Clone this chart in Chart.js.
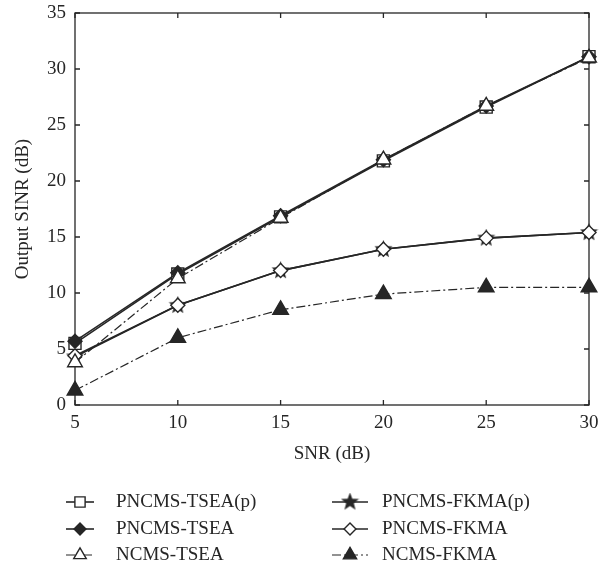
<!DOCTYPE html>
<html>
<head>
<meta charset="utf-8">
<script src="https://cdn.jsdelivr.net/npm/chart.js@4.4.1/dist/chart.umd.min.js"></script>
<style>
  html, body { margin: 0; padding: 0; background: #fff; }
  #wrap { width: 612px; height: 566px; position: relative; }
</style>
</head>
<body>
<div id="wrap"><canvas id="chart" width="612" height="566"></canvas></div>
<script>
// Data
const snr = [5, 10, 15, 20, 25, 30];
const tseaP = [5.5, 11.7, 16.8, 21.8, 26.6, 31.1];
const tsea = [5.7, 11.8, 16.9, 21.9, 26.7, 31.1];
const ncmsTsea = [3.8, 11.3, 16.7, 21.9, 26.7, 31.0];
const fkmaP = [4.3, 8.9, 12.0, 13.9, 14.9, 15.4];
const fkma = [4.4, 8.9, 12.0, 13.9, 14.9, 15.4];
const ncmsFkma = [1.3, 6.0, 8.5, 9.9, 10.5, 10.5];
const yTicks = [0, 5, 10, 15, 20, 25, 30, 35];

const INK = '#262626';
const FONT = 'Liberation Serif';
const DASHDOT = [9, 3, 2, 3];

// filled five-point star marker
function makeStar(size) {
    const c = document.createElement('canvas');
    c.width = size; c.height = size;
    const g = c.getContext('2d');
    const R = size / 2, r = R * 0.42;
    g.beginPath();
    for (let i = 0; i < 10; i++) {
        const a = -Math.PI / 2 + i * Math.PI / 5;
        const rad = i % 2 === 0 ? R : r;
        g.lineTo(R + rad * Math.cos(a), R + rad * Math.sin(a));
    }
    g.closePath();
    g.fillStyle = INK;
    g.fill();
    return c;
}
const starImg = makeStar(19);

function pts(arr) {
    return snr.map((x, i) => ({ x: x, y: arr[i] }));
}

function series(label, arr, style, fill, radius, dash, order) {
    return {
        label: label,
        data: pts(arr),
        borderColor: INK,
        borderWidth: dash ? 1.2 : 1.6,
        borderDash: dash || [],
        pointStyle: style,
        pointRadius: radius,
        pointHoverRadius: radius,
        pointBorderWidth: 1.4,
        pointBorderColor: INK,
        pointBackgroundColor: fill,
        fill: false,
        tension: 0,
        clip: false,
        order: order
    };
}

const datasets = [
    series('PNCMS-TSEA(p)', tseaP, 'rect', '#fff', 8.5, null, 3),
    series('PNCMS-TSEA', tsea, 'rectRot', INK, 7, null, 2),
    series('NCMS-TSEA', ncmsTsea, 'triangle', '#fff', 8.5, DASHDOT, 1),
    series('PNCMS-FKMA(p)', fkmaP, starImg, INK, 9, null, 5),
    series('PNCMS-FKMA', fkma, 'rectRot', '#fff', 7, null, 4),
    series('NCMS-FKMA', ncmsFkma, 'triangle', INK, 9, DASHDOT, 0)
];

// frame with inward ticks on all four sides
const framePlugin = {
    id: 'frame',
    beforeDatasetsDraw(chart) {
        const { ctx, chartArea: a, scales: { x, y } } = chart;
        ctx.save();
        ctx.strokeStyle = INK;
        ctx.lineWidth = 1.3;
        ctx.strokeRect(a.left, a.top, a.right - a.left, a.bottom - a.top);
        const t = 5;
        ctx.beginPath();
        snr.forEach(v => {
            const px = x.getPixelForValue(v);
            ctx.moveTo(px, a.bottom); ctx.lineTo(px, a.bottom - t);
            ctx.moveTo(px, a.top); ctx.lineTo(px, a.top + t);
        });
        yTicks.forEach(v => {
            const py = y.getPixelForValue(v);
            ctx.moveTo(a.left, py); ctx.lineTo(a.left + t, py);
            ctx.moveTo(a.right, py); ctx.lineTo(a.right - t, py);
        });
        ctx.stroke();
        ctx.restore();
    }
};

// two-column legend under the axis title
const legendPlugin = {
    id: 'twoColLegend',
    afterDraw(chart) {
        const ctx = chart.ctx;
        const cols = [{ x0: 66, x1: 94, tx: 116 }, { x0: 332, x1: 368, tx: 382 }];
        const rows = [502, 529, 555];
        const layout = [[0, 3], [1, 4], [2, 5]];
        ctx.save();
        ctx.font = '19px "' + FONT + '"';
        ctx.textBaseline = 'middle';
        ctx.textAlign = 'left';
        layout.forEach((pair, r) => {
            pair.forEach((di, c) => {
                const ds = chart.data.datasets[di];
                const col = cols[c];
                const yy = rows[r];
                ctx.strokeStyle = INK;
                ctx.lineWidth = ds.borderWidth;
                ctx.setLineDash(ds.borderDash);
                ctx.beginPath();
                ctx.moveTo(col.x0, yy);
                ctx.lineTo(col.x1, yy);
                ctx.stroke();
                ctx.setLineDash([]);
                ctx.fillStyle = ds.pointBackgroundColor;
                ctx.strokeStyle = INK;
                ctx.lineWidth = ds.pointBorderWidth;
                Chart.helpers.drawPoint(ctx, {
                    pointStyle: ds.pointStyle,
                    rotation: 0,
                    radius: ds.pointRadius * 0.85,
                    borderWidth: ds.pointBorderWidth
                }, (col.x0 + col.x1) / 2, yy);
                ctx.fillStyle = INK;
                ctx.fillText(ds.label, col.tx, yy);
            });
        });
        ctx.restore();
    }
};

// invisible tick marks keep label offset without inflating the top padding
const hiddenGrid = {
    display: true,
    drawOnChartArea: false,
    drawTicks: true,
    tickLength: 9,
    color: 'rgba(0,0,0,0)'
};

new Chart(document.getElementById('chart'), {
    type: 'line',
    data: { datasets: datasets },
    plugins: [framePlugin, legendPlugin],
    options: {
        responsive: false,
        animation: false,
        devicePixelRatio: 1,
        layout: { padding: { left: 0, right: 23, top: 13, bottom: 101 } },
        plugins: {
            legend: { display: false },
            tooltip: { enabled: false }
        },
        scales: {
            x: {
                type: 'linear',
                min: 5,
                max: 30,
                afterFit: s => { s.height = 60; },
                afterBuildTicks: s => { s.ticks = snr.map(v => ({ value: v })); },
                grid: { ...hiddenGrid, tickLength: 7 },
                border: { display: false },
                ticks: {
                    color: INK,
                    padding: 0,
                    font: { family: FONT, size: 19 }
                },
                title: {
                    display: true,
                    text: 'SNR (dB)',
                    color: INK,
                    padding: { top: 0, bottom: 0 },
                    font: { family: FONT, size: 19 }
                }
            },
            y: {
                min: 0,
                max: 35,
                afterFit: s => { s.width = 75; },
                afterBuildTicks: s => { s.ticks = yTicks.map(v => ({ value: v })); },
                grid: hiddenGrid,
                border: { display: false },
                ticks: {
                    color: INK,
                    padding: 0,
                    font: { family: FONT, size: 19 }
                },
                title: {
                    display: true,
                    text: 'Output SINR (dB)',
                    color: INK,
                    padding: { top: 12, bottom: 0 },
                    font: { family: FONT, size: 19 }
                }
            }
        }
    }
});
</script>
</body>
</html>
